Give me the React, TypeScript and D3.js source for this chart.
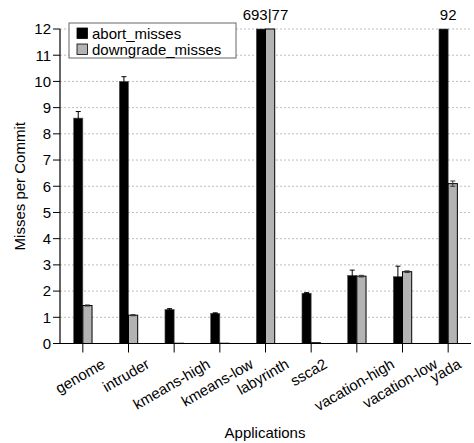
import { useMemo } from "react";
import * as d3 from "d3";

const categories = [
  "genome",
  "intruder",
  "kmeans-high",
  "kmeans-low",
  "labyrinth",
  "ssca2",
  "vacation-high",
  "vacation-low",
  "yada",
];
const seriesNames = ["abort_misses", "downgrade_misses"];
const abortMisses = [8.6, 10.0, 1.3, 1.15, 693, 1.92, 2.6, 2.55, 92];
const downgradeMisses = [1.45, 1.08, 0.01, 0.01, 77, 0.03, 2.57, 2.74, 6.1];
const abortErr = [0.25, 0.18, 0.03, 0.02, 0, 0.02, 0.2, 0.4, 0];
const downgradeErr = [0.02, 0.02, 0, 0, 0, 0, 0.03, 0.03, 0.1];
const yTicks = [0, 1, 2, 3, 4, 5, 6, 7, 8, 9, 10, 11, 12];
const Y_MAX = 12;

const W = 474;
const H = 443;
const M = { top: 29, right: 3, bottom: 99.5, left: 60 };
const colors = ["#000000", "#b3b3b3"];
const FONT = "'Liberation Sans', Arial, Helvetica, sans-serif";
const FS = 15;
const BAR_W = 9.2;

const measure = (() => {
  let ctx: CanvasRenderingContext2D | null = null;
  return (s: string) => {
    if (!ctx) ctx = document.createElement("canvas").getContext("2d");
    if (!ctx) return s.length * 8;
    ctx.font = `${FS}px ${FONT}`;
    return ctx.measureText(s).width;
  };
})();

export default function App() {
  const { x, y } = useMemo(() => {
    const x = d3
      .scaleBand()
      .domain(categories)
      .range([M.left, W - M.right])
      .padding(0);
    const y = d3
      .scaleLinear()
      .domain([0, Y_MAX])
      .range([H - M.bottom, M.top]);
    return { x, y };
  }, []);

  const series = [abortMisses, downgradeMisses];
  const errs = [abortErr, downgradeErr];
  const y0 = y(0);
  const cos30 = Math.cos(Math.PI / 6);

  return (
    <svg
      width={W}
      height={H}
      style={{ position: "absolute", left: 0, top: 0, background: "#fff" }}
      fontFamily={FONT}
    >
      {/* grid */}
      {yTicks
        .filter((t) => t > 0)
        .map((t) => (
          <line
            key={"g" + t}
            x1={M.left}
            x2={W - M.right}
            y1={y(t)}
            y2={y(t)}
            stroke="#bdbdbd"
            strokeWidth={1}
            strokeDasharray="2,2"
          />
        ))}

      {/* bars */}
      {categories.map((c, i) => {
        const cx = (x(c) ?? 0) + x.bandwidth() / 2;
        return (
          <g key={c}>
            {series.map((s, k) => {
              const v = Math.min(s[i], Y_MAX);
              const bx = cx - BAR_W + k * BAR_W;
              const top = y(v);
              const e = errs[k][i];
              const mid = bx + BAR_W / 2;
              return (
                <g key={k}>
                  <rect
                    x={bx}
                    y={top}
                    width={BAR_W}
                    height={y0 - top}
                    fill={colors[k]}
                    stroke={k === 0 ? "#555" : "#000"}
                    strokeWidth={k === 0 ? 0.6 : 1}
                  />
                  {e > 0 && s[i] <= Y_MAX && (
                    <g stroke={k === 0 ? "#000" : "#333"} strokeWidth={1}>
                      <line x1={mid} x2={mid} y1={y(s[i] - e)} y2={y(s[i] + e)} />
                      <line x1={mid - 2.5} x2={mid + 2.5} y1={y(s[i] + e)} y2={y(s[i] + e)} />
                      <line x1={mid - 2.5} x2={mid + 2.5} y1={y(s[i] - e)} y2={y(s[i] - e)} />
                    </g>
                  )}
                </g>
              );
            })}
            {(abortMisses[i] > Y_MAX || downgradeMisses[i] > Y_MAX) && (
              <text x={cx} y={20} textAnchor="middle" fontSize={FS} fill="#000">
                {series
                  .map((s) => s[i])
                  .filter((v) => v > Y_MAX)
                  .join("|")}
              </text>
            )}
          </g>
        );
      })}

      {/* axes */}
      <line x1={M.left} x2={M.left} y1={M.top} y2={y0} stroke="#000" strokeWidth={1.2} />
      <line x1={M.left} x2={W - M.right} y1={y0} y2={y0} stroke="#000" strokeWidth={1.2} />
      {yTicks.map((t) => (
        <g key={"t" + t}>
          <line x1={M.left - 7} x2={M.left} y1={y(t)} y2={y(t)} stroke="#000" />
          <text
            x={M.left - 9}
            y={y(t)}
            dy="0.36em"
            textAnchor="end"
            fontSize={FS}
            fill="#000"
          >
            {t}
          </text>
        </g>
      ))}
      {categories.map((c) => {
        const cx = (x(c) ?? 0) + x.bandwidth() / 2;
        const w = measure(c);
        return (
          <g key={"x" + c}>
            <line x1={cx} x2={cx} y1={y0} y2={y0 + 9} stroke="#000" />
            <text
              transform={`translate(${cx + (w / 2) * cos30},${367}) rotate(-30)`}
              textAnchor="end"
              fontSize={FS}
              fill="#000"
            >
              {c}
            </text>
          </g>
        );
      })}

      {/* axis titles */}
      <text
        transform={`translate(25,${(M.top + y0) / 2}) rotate(-90)`}
        textAnchor="middle"
        fontSize={FS}
        fill="#000"
      >
        Misses per Commit
      </text>
      <text x={265} y={438} textAnchor="middle" fontSize={FS} fill="#000">
        Applications
      </text>

      {/* legend */}
      <rect x={69} y={23} width={167} height={35} fill="#fff" stroke="#666" strokeWidth={1} />
      {seriesNames.map((n, k) => (
        <g key={n} transform={`translate(77,${28 + k * 16})`}>
          <rect x={0} y={0} width={10.5} height={10.5} fill={colors[k]} stroke="#000" strokeWidth={0.8} />
          <text x={15} y={10.5} fontSize={FS} fill="#000">
            {n}
          </text>
        </g>
      ))}
    </svg>
  );
}
